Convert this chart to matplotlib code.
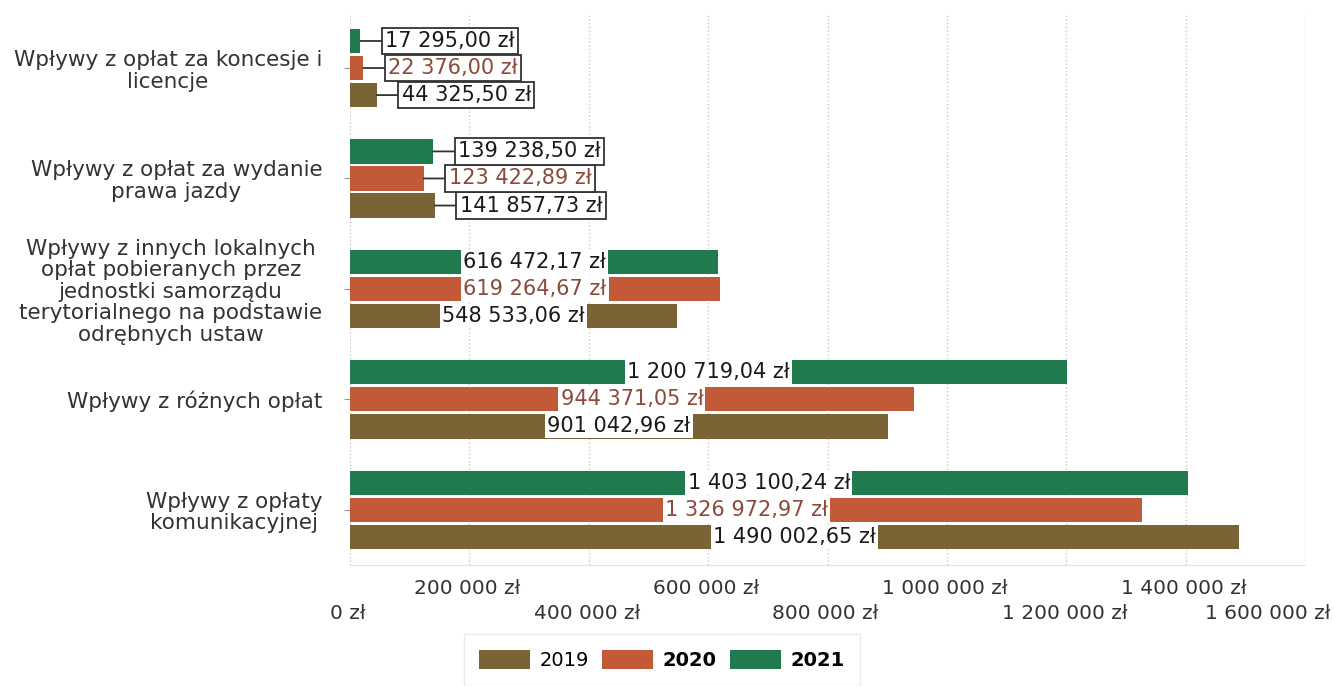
import matplotlib.pyplot as plt
from matplotlib.ticker import FixedLocator, FuncFormatter
from matplotlib.transforms import ScaledTranslation
import numpy as np

plt.rcParams['font.family'] = ['DejaVu Sans']

# dane
kategorie = [
    'Wpływy z opłat za koncesje i\nlicencje',
    'Wpływy z opłat za wydanie\nprawa jazdy',
    'Wpływy z innych lokalnych\nopłat pobieranych przez\njednostki samorządu\nterytorialnego na podstawie\nodrębnych ustaw',
    'Wpływy z różnych opłat',
    'Wpływy z opłaty\nkomunikacyjnej',
]
lata = ['2019', '2020', '2021']
w2019 = [44325.50, 141857.73, 548533.06, 901042.96, 1490002.65]
w2020 = [22376.00, 123422.89, 619264.67, 944371.05, 1326972.97]
w2021 = [17295.00, 139238.50, 616472.17, 1200719.04, 1403100.24]
ticks_major = [0, 400000, 800000, 1200000, 1600000]
ticks_minor = [200000, 600000, 1000000, 1400000]

kolory = {'2019': '#7a6334', '2020': '#c25a38', '2021': '#1f7a4e'}
kolor_tekstu = {'2019': '#1a1a1a', '2020': '#8a4a3c', '2021': '#1a1a1a'}
serie = {'2019': w2019, '2020': w2020, '2021': w2021}
# przesunięcie w grupie (oś odwrócona): 2021 na górze
offset = {'2019': 0.245, '2020': 0.0, '2021': -0.245}


def zl(v, dec=0):
    s = f'{v:,.{dec}f}'.replace(',', ' ').replace('.', ',')
    return s + ' zł'


fig = plt.figure(figsize=(13.33, 6.86), dpi=100)
ax = fig.add_axes([0.2626, 0.1764, 0.7165, 0.8017])

y = np.arange(len(kategorie))
for rok in lata:
    vals = serie[rok]
    pos = y + offset[rok]
    ax.barh(pos, vals, height=0.22, color=kolory[rok], label=rok, zorder=2)
    for i, (p, v) in enumerate(zip(pos, vals)):
        if i < 2:
            ax.annotate(zl(v, 2), xy=(v, p), xytext=(18, 0), textcoords='offset points',
                        ha='left', va='center', fontsize=15, color=kolor_tekstu[rok],
                        bbox=dict(boxstyle='square,pad=0.16', fc='white', ec='#333333', lw=1.3),
                        arrowprops=dict(arrowstyle='-', color='#333333', lw=1.3,
                                        shrinkA=0, shrinkB=0), zorder=4)
        else:
            ax.text(v / 2, p, zl(v, 2), ha='center', va='center', fontsize=15,
                    color=kolor_tekstu[rok], zorder=4,
                    bbox=dict(boxstyle='square,pad=0.1', fc='white', ec='none'))

ax.set_ylim(4.5, -0.48)
ax.set_xlim(0, 1600000)
ax.set_yticks(y)
ax.set_yticklabels(kategorie, fontsize=15.5, color='#333333', multialignment='center',
                   linespacing=1.1)
ax.tick_params(axis='y', length=4, color='#999999', pad=16)

# etykiety osi X na dwóch poziomach
ax.xaxis.set_major_locator(FixedLocator(ticks_major))
ax.xaxis.set_minor_locator(FixedLocator(ticks_minor))
fmt = FuncFormatter(lambda v, p: zl(v))
ax.xaxis.set_major_formatter(fmt)
ax.xaxis.set_minor_formatter(fmt)
ax.tick_params(axis='x', which='major', length=0, pad=28, labelsize=14.5, labelcolor='#333333')
ax.tick_params(axis='x', which='minor', length=0, pad=10, labelsize=14.5, labelcolor='#333333')
przes = ScaledTranslation(-2 / 100, 0, fig.dpi_scale_trans)
for lab in ax.get_xticklabels(minor=False)[:-1] + ax.get_xticklabels(minor=True):
    lab.set_transform(lab.get_transform() + przes)
# ostatnia etykieta dosunięta do prawej krawędzi
ostatnia = ax.get_xticklabels(minor=False)[-1]
ostatnia.set_horizontalalignment('right')
ostatnia.set_transform(ostatnia.get_transform() + ScaledTranslation(25 / 100, 0, fig.dpi_scale_trans))

ax.grid(axis='x', which='both', color='#c8c8c8', linestyle=':', linewidth=1, zorder=0)
for s in ['top', 'right', 'left']:
    ax.spines[s].set_visible(False)
ax.spines['bottom'].set_color('#e2e2e2')

h, l = ax.get_legend_handles_labels()
leg = fig.legend(h, l, loc='center', bbox_to_anchor=(662 / 1333, 1 - 660 / 686), ncol=3,
                 fontsize=14, handlelength=2.6, handleheight=1.1, columnspacing=0.7,
                 handletextpad=0.5, frameon=True, fancybox=False, borderpad=0.8)
leg.get_frame().set_edgecolor('#e6e6e6')
leg.get_frame().set_linewidth(1.0)
for t in leg.get_texts()[1:]:
    t.set_fontweight('bold')

fig.savefig('out.png', dpi=100, facecolor='white')
